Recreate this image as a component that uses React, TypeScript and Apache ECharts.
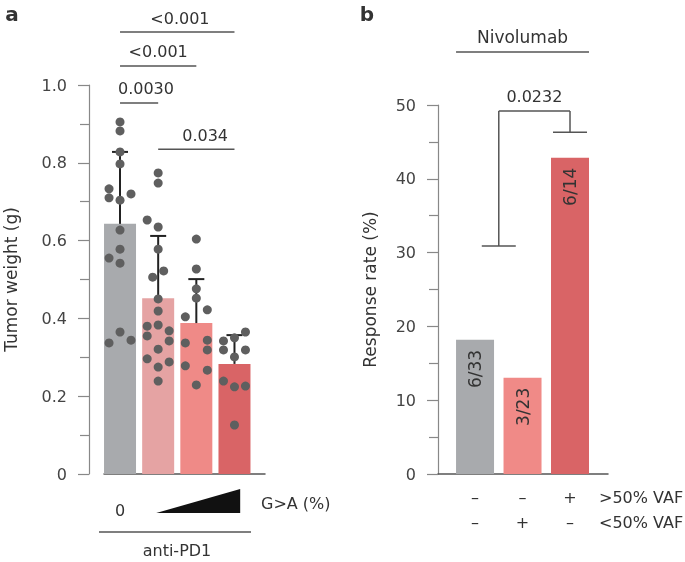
import React, { useEffect, useRef } from 'react';
import * as echarts from 'echarts';

const FONT = 'DejaVu Sans';
const TEXT = '#333333';
const LINE = '#555555';

// ---- Panel a data ----
const categoriesA = ['0', 'low', 'mid', 'high'];
const meansA = [0.643, 0.452, 0.388, 0.283];
const upperA = [0.828, 0.612, 0.501, 0.357];
const colorsA = ['#a8aaad', '#e5a3a3', '#ef8a87', '#d96466'];
// [jitter lane, value]
const dotsA0 = [[0, 0.905], [0, 0.882], [0, 0.828], [0, 0.797], [-1, 0.733], [-1, 0.71], [1, 0.72], [0, 0.704], [0, 0.627], [0, 0.578], [-1, 0.555], [0, 0.542], [0, 0.365], [-1, 0.337], [1, 0.344]];
const dotsA1 = [[0, 0.774], [0, 0.748], [-1, 0.653], [0, 0.635], [0, 0.578], [-0.5, 0.506], [0.5, 0.522], [0, 0.45], [0, 0.419], [-1, 0.38], [0, 0.383], [1, 0.368], [-1, 0.355], [1, 0.342], [0, 0.321], [-1, 0.296], [1, 0.288], [0, 0.275], [0, 0.239]];
const dotsA2 = [[0, 0.604], [0, 0.527], [0, 0.476], [0, 0.452], [-1, 0.404], [1, 0.422], [-1, 0.337], [1, 0.344], [1, 0.319], [-1, 0.278], [1, 0.267], [0, 0.229]];
const dotsA3 = [[0, 0.35], [1, 0.365], [-1, 0.342], [-1, 0.319], [1, 0.319], [0, 0.301], [-1, 0.239], [0, 0.224], [1, 0.226], [0, 0.126]];
const dotsA = [dotsA0, dotsA1, dotsA2, dotsA3];
const bracketsA = [
  { from: 0, to: 1, y: 0.954, label: '0.0030', tx: 0.68 },
  { from: 0, to: 2, y: 1.049, label: '<0.001', tx: 1.0 },
  { from: 0, to: 3, y: 1.136, label: '<0.001', tx: 1.57 },
  { from: 1, to: 3, y: 0.835, label: '0.034', tx: 2.23 },
];

// ---- Panel b data ----
const categoriesB = ['neither', '<50% VAF', '>50% VAF'];
const ratesB = [(6 / 33) * 100, (3 / 23) * 100, (6 / 14) * 100];
const labelsB = ['6/33', '3/23', '6/14'];
const colorsB = ['#a8aaad', '#f08a87', '#d96466'];
const gtRow = ['–', '–', '+'];
const ltRow = ['–', '+', '–'];
const bracketB = { left: 0.5, right: 2, top: 49.2, leftCap: 30.9, rightCap: 46.3, label: '0.0232' };

const JITTER = 0.288;

function errRender(params: any, api: any) {
  const x = api.value(0);
  const m = api.value(1);
  const u = api.value(2);
  const p0 = api.coord([x, m]);
  const p1 = api.coord([x, u]);
  const st = { stroke: '#222', lineWidth: 2 };
  return {
    type: 'group',
    children: [
      { type: 'line', shape: { x1: p0[0], y1: p0[1], x2: p1[0], y2: p1[1] }, style: st },
      { type: 'line', shape: { x1: p1[0] - 8, y1: p1[1], x2: p1[0] + 8, y2: p1[1] }, style: st },
    ],
  };
}

export default function App() {
  const ref = useRef<HTMLDivElement>(null);
  useEffect(() => {
    if (!ref.current) return;
    const chart = echarts.init(ref.current, undefined, { renderer: 'svg' });
    const axisLabel = { color: '#444', fontSize: 16, fontFamily: FONT, margin: 22 };
    const scatterData: number[][] = [];
    dotsA.forEach((arr, i) => arr.forEach(([lane, v]) => scatterData.push([i + lane * JITTER, v])));
    const yLine = { show: true, onZero: false, lineStyle: { color: '#888', width: 1.2 } };
    const xLine = { show: true, onZero: false, lineStyle: { color: LINE, width: 1.5 } };

    chart.setOption({
      animation: false,
      textStyle: { fontFamily: FONT },
      grid: [
        { left: 104, top: 85, width: 161, bottom: 88 },
        { left: 438, top: 105, width: 170, bottom: 88 },
      ],
      xAxis: [
        {
          type: 'value', gridIndex: 0, min: -0.42, max: 3.8,
          axisLine: xLine,
          axisTick: { show: false }, axisLabel: { show: false }, splitLine: { show: false },
        },
        {
          type: 'value', gridIndex: 1, min: -0.78, max: 2.8,
          axisLine: xLine,
          axisTick: { show: false }, axisLabel: { show: false }, splitLine: { show: false },
        },
      ],
      yAxis: [
        {
          type: 'value', gridIndex: 0, min: 0, max: 1, interval: 0.2, offset: 15,
          name: 'Tumor weight (g)', nameLocation: 'middle', nameGap: 70,
          nameTextStyle: { fontSize: 17, color: TEXT, fontFamily: FONT },
          axisLine: yLine,
          axisTick: { show: true, length: 11, lineStyle: { color: '#888', width: 1.2 } },
          minorTick: { show: true, splitNumber: 2, length: 9, lineStyle: { color: '#888', width: 1.2 } },
          axisLabel: { ...axisLabel, formatter: (v: number) => (v === 0 ? '0' : v.toFixed(1)) },
          splitLine: { show: false },
        },
        {
          type: 'value', gridIndex: 1, min: 0, max: 50, interval: 10,
          name: 'Response rate (%)', nameLocation: 'middle', nameGap: 60,
          nameTextStyle: { fontSize: 17, color: TEXT, fontFamily: FONT },
          axisLine: yLine,
          axisTick: { show: true, length: 11, lineStyle: { color: '#888', width: 1.2 } },
          minorTick: { show: true, splitNumber: 2, length: 9, lineStyle: { color: '#888', width: 1.2 } },
          axisLabel,
          splitLine: { show: false },
        },
      ],
      series: [
        {
          type: 'bar', xAxisIndex: 0, yAxisIndex: 0, barWidth: 32, z: 1,
          data: meansA.map((v, i) => ({ value: [i, v], name: categoriesA[i], itemStyle: { color: colorsA[i] } })),
        },
        {
          type: 'custom', xAxisIndex: 0, yAxisIndex: 0, z: 3,
          encode: { x: 0, y: [1, 2] },
          renderItem: errRender,
          data: meansA.map((v, i) => [i, v, upperA[i]]),
        },
        {
          type: 'scatter', xAxisIndex: 0, yAxisIndex: 0, z: 4,
          symbolSize: 9, itemStyle: { color: '#5f5f5f', opacity: 1 },
          data: scatterData,
        },
        {
          type: 'bar', xAxisIndex: 1, yAxisIndex: 1, barWidth: 38,
          data: ratesB.map((v, i) => ({ value: [i, v], name: categoriesB[i], itemStyle: { color: colorsB[i] } })),
          label: {
            show: true, position: 'insideTop', rotate: 90, align: 'right', verticalAlign: 'middle',
            distance: 10, fontSize: 17, color: TEXT, fontFamily: FONT,
            formatter: (p: any) => labelsB[p.dataIndex],
          },
        },
      ],
    });

    const pa = (x: number, y: number) => chart.convertToPixel({ gridIndex: 0 }, [x, y]) as number[];
    const pb = (x: number, y: number) => chart.convertToPixel({ gridIndex: 1 }, [x, y]) as number[];
    const lineEl = (x1: number, y1: number, x2: number, y2: number, w = 1.5, c = LINE) => ({
      type: 'line', shape: { x1, y1, x2, y2 }, style: { stroke: c, lineWidth: w }, silent: true,
    });
    const textEl = (text: string, x: number, y: number, size = 16, align = 'center', weight: any = 'normal') => ({
      type: 'text', x, y, silent: true,
      style: { text, fill: TEXT, fontSize: size, fontFamily: FONT, fontWeight: weight, align, verticalAlign: 'middle' },
    });

    const g: any[] = [];
    g.push(textEl('a', 12, 14, 20, 'center', 'bold'));
    g.push(textEl('b', 367, 14, 20, 'center', 'bold'));

    bracketsA.forEach((b) => {
      const p1 = pa(b.from, b.y);
      const p2 = pa(b.to, b.y);
      g.push(lineEl(p1[0], p1[1], p2[0], p2[1]));
      const t = pa(b.tx, b.y);
      g.push(textEl(b.label, t[0], t[1] - 14, 16));
    });

    // panel a bottom annotations
    const base = pa(0, 0);
    g.push(textEl(categoriesA[0], base[0], 510, 16));
    const t1 = pa(0.95, 0);
    const t2 = pa(3.15, 0);
    g.push({
      type: 'polygon', silent: true,
      shape: { points: [[t1[0], 513], [t2[0], 513], [t2[0], 489]] },
      style: { fill: '#111' },
    });
    g.push(textEl('G>A (%)', 261, 503, 16, 'left'));
    g.push(lineEl(99, 532, 251, 532));
    g.push(textEl('anti-PD1', 177, 550, 16));

    // panel b bracket
    const L0 = pb(bracketB.left, bracketB.leftCap);
    const L1 = pb(bracketB.left, bracketB.top);
    const R1 = pb(bracketB.right, bracketB.top);
    const R0 = pb(bracketB.right, bracketB.rightCap);
    g.push(lineEl(L0[0], L0[1], L1[0], L1[1]));
    g.push(lineEl(L1[0], L1[1], R1[0], R1[1]));
    g.push(lineEl(R1[0], R1[1], R0[0], R0[1]));
    g.push(lineEl(L0[0] - 17, L0[1], L0[0] + 17, L0[1]));
    g.push(lineEl(R0[0] - 17, R0[1], R0[0] + 17, R0[1]));
    g.push(textEl(bracketB.label, (L1[0] + R1[0]) / 2, L1[1] - 14, 16));

    // Nivolumab header
    const n1 = pb(-0.4, 0);
    const n2 = pb(2.4, 0);
    g.push(lineEl(n1[0], 52, n2[0], 52));
    g.push(textEl('Nivolumab', (n1[0] + n2[0]) / 2, 37, 17));

    // rows
    gtRow.forEach((s, i) => g.push(textEl(s, pb(i, 0)[0], 497, 16)));
    ltRow.forEach((s, i) => g.push(textEl(s, pb(i, 0)[0], 522, 16)));
    g.push(textEl('>50% VAF', 599, 497, 16, 'left'));
    g.push(textEl('<50% VAF', 599, 522, 16, 'left'));

    chart.setOption({ graphic: g });

    return () => chart.dispose();
  }, []);
  return <div ref={ref} style={{ position: 'fixed', left: 0, top: 0, width: 685, height: 562 }} />;
}
